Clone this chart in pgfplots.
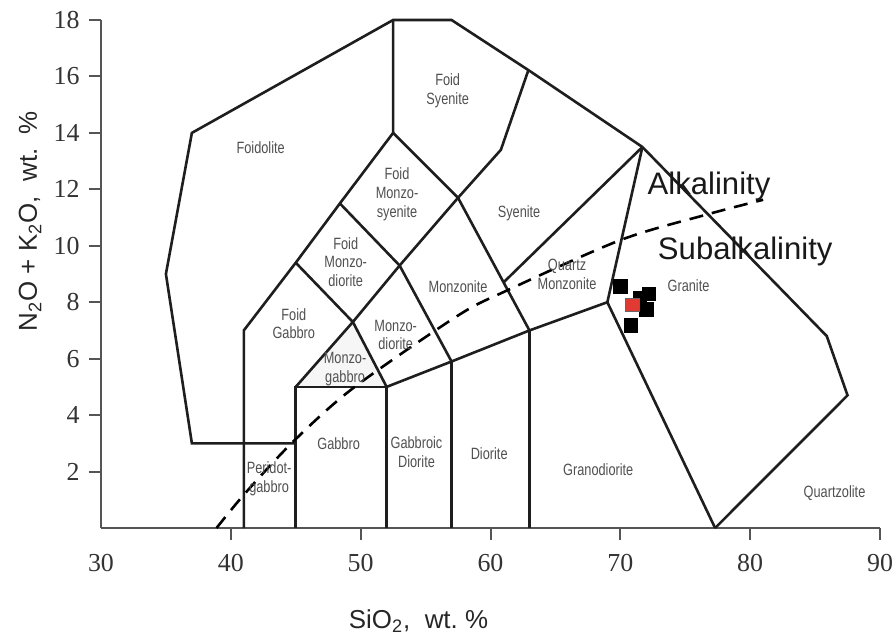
\documentclass[border=0pt]{standalone}
\usepackage{pgfplots}
\pgfplotsset{compat=1.18}
\usepackage{fontspec}
\setmainfont{Liberation Sans}
\newfontfamily\serifnum{Liberation Serif}
\newfontfamily\lblfont[FakeStretch=0.78]{Liberation Sans}
\definecolor{axisgray}{HTML}{555555}
\definecolor{bdcol}{HTML}{1E1E1E}
\definecolor{lblcol}{HTML}{505050}
\definecolor{ticklbl}{HTML}{333333}
\definecolor{ptred}{HTML}{E03A32}
\tikzset{
  bd/.style={draw=bdcol, line width=1.3bp, mark=none, sharp plot, line join=miter},
  lbl/.style={font=\lblfont\fontsize{8.2}{9.5}\selectfont, text=lblcol, align=center, inner sep=0pt},
}
\begin{document}
\begin{tikzpicture}
\useasboundingbox (-50.5bp,-54.5bp) rectangle (397.5bp,264bp);
\begin{axis}[
  scale only axis, width=389.5bp, height=254bp,
  xmin=30, xmax=90, ymin=0, ymax=18,
  axis x line=bottom, axis y line=left,
  axis line style={-, draw=axisgray, line width=1bp},
  xtick={40,50,60,70,80,90}, ytick={2,4,6,8,10,12,14,16,18},
  extra x ticks={30}, extra x tick style={tick style={draw=none}},
  tick align=outside, major tick length=6bp,
  every tick/.style={draw=axisgray, line width=1bp},
  /pgf/number format/assume math mode=true,
  ticklabel style={font=\serifnum\fontsize{13}{13}\selectfont, text=ticklbl},
  xticklabel style={yshift=-3.5bp},
  yticklabel style={xshift=-1.2bp},
  clip=false,
]
% Monzogabbro light fill
\addplot[fill=gray!7, draw=none] coordinates {(45,5) (49.4,7.3) (52,5)} -- cycle;
% outer boundary
\addplot[bd] coordinates {(45,3) (37,3) (35,9) (37,14) (52.5,18) (57,18) (63,16.2) (71.7,13.5) (85.9,6.8) (87.5,4.7) (77.3,0)};
% foidolite inner boundary
\addplot[bd] coordinates {(41,0) (41,7) (45,9.4) (48.4,11.5) (52.5,14) (52.5,18)};
% gabbro box
\addplot[bd] coordinates {(45,0) (45,5) (52,5) (52,0)};
% lower step line
\addplot[bd] coordinates {(52,5) (57,5.9) (63,7) (69,8) (77.3,0)};
\addplot[bd] coordinates {(57,0) (57,5.9)};
\addplot[bd] coordinates {(63,0) (63,7)};
\addplot[bd] coordinates {(69,8) (71.7,13.5)};
% rising diagonal
\addplot[bd] coordinates {(45,5) (49.4,7.3) (53,9.3) (57.5,11.7) (60.8,13.4) (62.9,16.2)};
% falling diagonals
\addplot[bd] coordinates {(52,5) (49.4,7.3) (45,9.4)};
\addplot[bd] coordinates {(57,5.9) (53,9.3) (48.4,11.5)};
\addplot[bd] coordinates {(63,7) (57.5,11.7) (52.5,14)};
\addplot[bd] coordinates {(61,8.7) (71.7,13.5)};
% alkaline / subalkaline dashed line
\addplot[draw=black, line width=1.3bp, dash pattern=on 7bp off 4.5bp, smooth, mark=none] coordinates {
 (38.9,0) (41.1,1.23) (44.8,3.06) (49.4,4.95) (57.4,7.5) (61.1,8.38) (70,10.2) (76.6,11.1) (81,11.63)};
% samples
\addplot[only marks, mark=square*, mark size=3.4bp, color=black] coordinates {
 (70.0,8.56) (71.5,8.15) (72.2,8.3) (72.0,7.75) (70.8,7.17)};
\addplot[only marks, mark=square*, mark size=3.4bp, mark options={fill=ptred, draw=black!60, line width=0.4bp}] coordinates {(70.95,7.9)};
% region labels
\node[lbl] at (axis cs:42.3,13.46) {Foidolite};
\node[lbl] at (axis cs:56.7,15.5) {Foid\\Syenite};
\node[lbl] at (axis cs:52.8,11.83) {Foid\\Monzo-\\syenite};
\node[lbl] at (axis cs:48.85,9.42) {Foid\\Monzo-\\diorite};
\node[lbl] at (axis cs:44.85,7.24) {Foid\\Gabbro};
\node[lbl] at (axis cs:48.8,5.64) {Monzo-\\gabbro};
\node[lbl] at (axis cs:52.7,6.84) {Monzo-\\diorite};
\node[lbl] at (axis cs:57.5,8.54) {Monzonite};
\node[lbl] at (axis cs:62.2,11.16) {Syenite};
\node[lbl] at (axis cs:65.9,9.0) {Quartz\\Monzonite};
\node[lbl] at (axis cs:75.25,8.58) {Granite};
\node[lbl] at (axis cs:48.3,3.0) {Gabbro};
\node[lbl] at (axis cs:54.3,2.7) {Gabbroic\\Diorite};
\node[lbl] at (axis cs:42.95,1.76) {Peridot-\\gabbro};
\node[lbl] at (axis cs:59.9,2.62) {Diorite};
\node[lbl] at (axis cs:68.3,2.08) {Granodiorite};
\node[lbl] at (axis cs:86.5,1.25) {Quartzolite};
\node[anchor=base west, inner sep=0pt, font=\fontsize{15.6}{15.6}\selectfont, text=black!90] at (axis cs:72.08,11.8) {Alkalinity};
\node[anchor=base west, inner sep=0pt, font=\fontsize{15.6}{15.6}\selectfont, text=black!90] at (axis cs:72.87,9.5) {Subalkalinity};
% axis titles
\node[anchor=base, inner sep=0pt, font=\fontsize{13}{13}\selectfont, text=black!85] at ([yshift=-50bp]axis description cs:0.4076,0) {SiO\textsubscript{2},\ \ wt.\ \%};
\node[anchor=base, rotate=90, inner sep=0pt, font=\fontsize{13}{13}\selectfont, text=black!85] at ([xshift=-32bp]axis description cs:0,0.604) {N\textsubscript{2}O + K\textsubscript{2}O,\ \ wt.\ \ \%};
\end{axis}
\end{tikzpicture}
\end{document}
